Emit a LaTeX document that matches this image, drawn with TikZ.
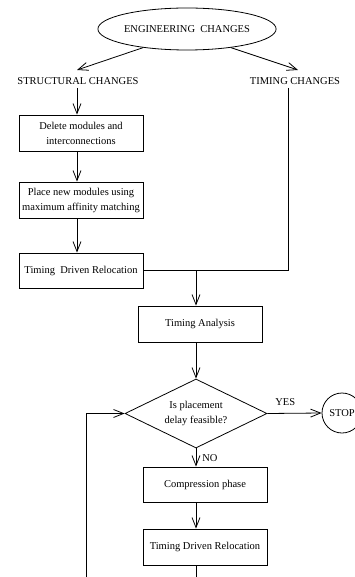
\documentclass[tikz,border=0pt]{standalone}
\usepackage{fontspec}
\setmainfont{Liberation Serif}
\usetikzlibrary{arrows.meta,shapes.geometric}
\begin{document}
\begin{tikzpicture}[x=1pt,y=-1pt,
 line width=0.8pt,
 every node/.style={font=\fontsize{10.5}{15}\selectfont},
 box/.style={draw, rectangle, minimum width=124pt, minimum height=36pt, inner sep=2pt, align=center},
 arr/.style={-{Straight Barb[length=10pt,width=8pt]}},
 lbl/.style={inner sep=0pt}]
\useasboundingbox (0,0) rectangle (354,577);
\node[draw, ellipse, minimum width=148pt, minimum height=42pt, inner sep=0pt] (eng) at (187,29) {ENGINEERING\ \ CHANGES};
\node[lbl] (struct) at (78,81) {STRUCTURAL CHANGES};
\node[lbl] (timing) at (295,81) {TIMING CHANGES};
\coordinate (sa) at (77,70);
\coordinate (ta) at (298,70);
\draw[arr] (eng.203) -- (sa);
\draw[arr] (eng.337) -- (ta);
\node[box] (b1) at (81,133) {Delete modules and\\interconnections};
\node[box] (b2) at (81,200) {Place new modules using\\maximum affinity matching};
\node[box, minimum height=35pt] (b3) at (81,270.5) {Timing\ \ Driven Relocation};
\node[box] (b4) at (200,324) {Timing Analysis};
\node[draw, diamond, aspect=2.06, minimum width=142pt, minimum height=69pt, inner sep=0pt, align=center] (dec) at (196,413.5) {Is placement\\delay feasible?};
\node[draw, circle, minimum size=40pt, inner sep=0pt] (stop) at (342,413) {STOP};
\node[box, minimum height=35pt] (b5) at (205,484.5) {Compression phase};
\node[box] (b6) at (205,547) {Timing Driven Relocation};
\coordinate (s0) at (77,88);
\draw[arr] (s0) -- (b1.north -| s0);
\draw[arr] (b1.south -| s0) -- (b2.north -| s0);
\draw[arr] (b2.south -| s0) -- (b3.north -| s0);
\coordinate (t1) at (288,88);
\coordinate (j) at (196,270.5);
\draw (t1) |- (b3.east);
\draw[arr] (j) -- (b4.north -| j);
\draw[arr] (b4.south -| j) -- (dec.north);
\draw[arr] (dec.east) -- node[lbl, above=7pt, pos=0.33] (yes) {YES} (stop.west);
\draw[arr] (dec.south) -- node[lbl, right=6pt, pos=0.55] (no) {NO} (b5.north -| dec.south);
\draw[arr] (b5.south -| dec.south) -- (b6.north -| dec.south);
\coordinate (endb) at (196,577);
\draw (b6.south -| endb) -- (endb);
\coordinate (loopb) at (86,577);
\draw[arr] (loopb) |- (dec.west);
\end{tikzpicture}
\end{document}
